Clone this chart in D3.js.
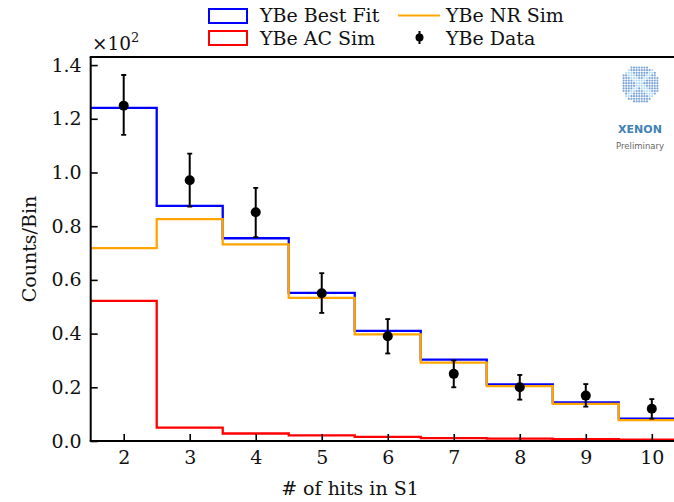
<!DOCTYPE html>
<html>
<head>
<meta charset="utf-8">
<script src="https://cdn.jsdelivr.net/npm/d3@7"></script>
<style>
html,body{margin:0;padding:0;background:#fff;overflow:hidden;}
svg{display:block;}
</style>
</head>
<body>
<svg id="chart" width="674" height="502"></svg>
<script>
// ---- data (units of 10^2 counts) ----
const bins = [2, 3, 4, 5, 6, 7, 8, 9, 10];
const bestFit = [1.241, 0.876, 0.755, 0.552, 0.410, 0.303, 0.211, 0.144, 0.083];
const nrSim   = [0.718, 0.826, 0.732, 0.533, 0.397, 0.292, 0.204, 0.138, 0.078];
const acSim   = [0.522, 0.050, 0.028, 0.021, 0.015, 0.011, 0.009, 0.007, 0.005];
const dataY   = [1.249, 0.971, 0.852, 0.550, 0.390, 0.250, 0.200, 0.169, 0.120];
const dataLo  = [1.140, 0.873, 0.759, 0.477, 0.326, 0.200, 0.154, 0.128, 0.083];
const dataHi  = [1.363, 1.070, 0.943, 0.625, 0.454, 0.300, 0.246, 0.212, 0.156];
const xTicks = [2, 3, 4, 5, 6, 7, 8, 9, 10];
const yTicks = [0.0, 0.2, 0.4, 0.6, 0.8, 1.0, 1.2, 1.4];

const svg = d3.select("#chart");
const L = 90.7, R = 684.8, T = 57, B = 441;
const x = d3.scaleLinear().domain([1.5, 10.5]).range([L, R]);
const y = d3.scaleLinear().domain([0, 1.4301]).range([B, T]);
const font = "'DejaVu Serif', serif";
const FS = 19;

svg.append("defs").append("clipPath").attr("id", "clip")
  .append("rect").attr("x", L).attr("y", T).attr("width", R - L).attr("height", B - T);

const plot = svg.append("g").attr("clip-path", "url(#clip)");

function stepPts(vals) {
  const pts = [];
  bins.forEach((b, i) => {
    pts.push([b - 0.5, vals[i]]);
    pts.push([b + 0.5, vals[i]]);
  });
  return pts;
}
const line = d3.line().x(d => x(d[0])).y(d => y(d[1]));

function drawStep(vals, color) {
  plot.append("path").attr("d", line(stepPts(vals)))
    .attr("fill", "none").attr("stroke", color).attr("stroke-width", 2.3)
    .attr("stroke-linejoin", "miter");
}
drawStep(bestFit, "#0000ff");
drawStep(acSim, "#ff0000");
drawStep(nrSim, "#ffa500");

// data points with error bars
const dg = plot.append("g");
bins.forEach((b, i) => {
  const cx = x(b);
  dg.append("line").attr("x1", cx).attr("x2", cx).attr("y1", y(dataLo[i])).attr("y2", y(dataHi[i]))
    .attr("stroke", "#000").attr("stroke-width", 2);
  [dataLo[i], dataHi[i]].forEach(v => {
    dg.append("line").attr("x1", cx - 2.5).attr("x2", cx + 2.5).attr("y1", y(v)).attr("y2", y(v))
      .attr("stroke", "#000").attr("stroke-width", 1.8);
  });
  dg.append("circle").attr("cx", cx).attr("cy", y(dataY[i])).attr("r", 5).attr("fill", "#000");
});

// axes
const xAxis = d3.axisBottom(x).tickValues(xTicks).tickSizeInner(-7).tickSizeOuter(0).tickPadding(10).tickFormat(d3.format("d"));
const yAxis = d3.axisLeft(y).tickValues(yTicks).tickSizeInner(-7).tickSizeOuter(0).tickPadding(9).tickFormat(d3.format(".1f"));

const gx = svg.append("g").attr("transform", `translate(0,${B})`).call(xAxis);
const gy = svg.append("g").attr("transform", `translate(${L},0)`).call(yAxis);
[gx, gy].forEach(g => {
  g.select(".domain").remove();
  g.selectAll(".tick line").attr("stroke", "#000").attr("stroke-width", 1.6);
  g.selectAll(".tick text").attr("font-family", font).attr("font-size", FS).attr("fill", "#111");
});

// spines
svg.append("line").attr("x1", L).attr("x2", L).attr("y1", T).attr("y2", B).attr("stroke", "#000").attr("stroke-width", 2);
svg.append("line").attr("x1", L - 1).attr("x2", 674).attr("y1", B).attr("y2", B).attr("stroke", "#000").attr("stroke-width", 2);
svg.append("line").attr("x1", L - 1).attr("x2", 674).attr("y1", T).attr("y2", T).attr("stroke", "#000").attr("stroke-width", 2);

// axis labels
svg.append("text").attr("x", 350).attr("y", 494.5).attr("text-anchor", "middle")
  .attr("font-family", font).attr("font-size", FS).attr("fill", "#111").text("# of hits in S1");
svg.append("text").attr("transform", "translate(36,249) rotate(-90)").attr("text-anchor", "middle")
  .attr("font-family", font).attr("font-size", FS).attr("fill", "#111").text("Counts/Bin");

// offset text
const off = svg.append("text").attr("x", 92).attr("y", 50).attr("font-family", font).attr("font-size", 18.5).attr("fill", "#111");
off.append("tspan").text("×10");
off.append("tspan").attr("dy", -8).attr("font-size", 13).text("2");

// legend
const lg = svg.append("g").attr("font-family", font).attr("font-size", FS).attr("fill", "#111");
lg.append("rect").attr("x", 209).attr("y", 9).attr("width", 38).attr("height", 14).attr("fill", "none").attr("stroke", "#0000ff").attr("stroke-width", 2);
lg.append("text").attr("x", 260).attr("y", 21.7).text("YBe Best Fit");
lg.append("rect").attr("x", 209).attr("y", 31).attr("width", 38).attr("height", 14).attr("fill", "none").attr("stroke", "#ff0000").attr("stroke-width", 2);
lg.append("text").attr("x", 260).attr("y", 45).text("YBe AC Sim");
lg.append("line").attr("x1", 398).attr("x2", 440).attr("y1", 15.5).attr("y2", 15.5).attr("stroke", "#ffa500").attr("stroke-width", 2);
lg.append("text").attr("x", 446).attr("y", 21.7).text("YBe NR Sim");
lg.append("line").attr("x1", 419.5).attr("x2", 419.5).attr("y1", 31).attr("y2", 44).attr("stroke", "#000").attr("stroke-width", 2);
lg.append("circle").attr("cx", 419.5).attr("cy", 37.5).attr("r", 4).attr("fill", "#000");
lg.append("text").attr("x", 446).attr("y", 45).text("YBe Data");

// XENON logo
const logo = svg.append("g");
const lcx = 640, lcy = 84, lr = 19;
for (let gy2 = -lr; gy2 <= lr; gy2 += 2.6) {
  for (let gx2 = -lr; gx2 <= lr; gx2 += 2.6) {
    if (gx2 * gx2 + gy2 * gy2 <= lr * lr) {
      const nearDiag = Math.abs(Math.abs(gx2) - Math.abs(gy2)) < 3.5;
      logo.append("circle").attr("cx", lcx + gx2).attr("cy", lcy + gy2).attr("r", 1.1)
        .attr("fill", nearDiag ? "#b4dcf2" : "#7ea5d8");
    }
  }
}
logo.append("text").attr("x", 640).attr("y", 133).attr("text-anchor", "middle")
  .attr("font-family", "'DejaVu Sans', sans-serif").attr("font-weight", "bold").attr("font-size", 11)
  .attr("fill", "#3f82b3").text("XENON");
logo.append("text").attr("x", 640).attr("y", 149).attr("text-anchor", "middle")
  .attr("font-family", "'DejaVu Sans', sans-serif").attr("font-size", 8.5)
  .attr("fill", "#666").text("Preliminary");
</script>
</body>
</html>
